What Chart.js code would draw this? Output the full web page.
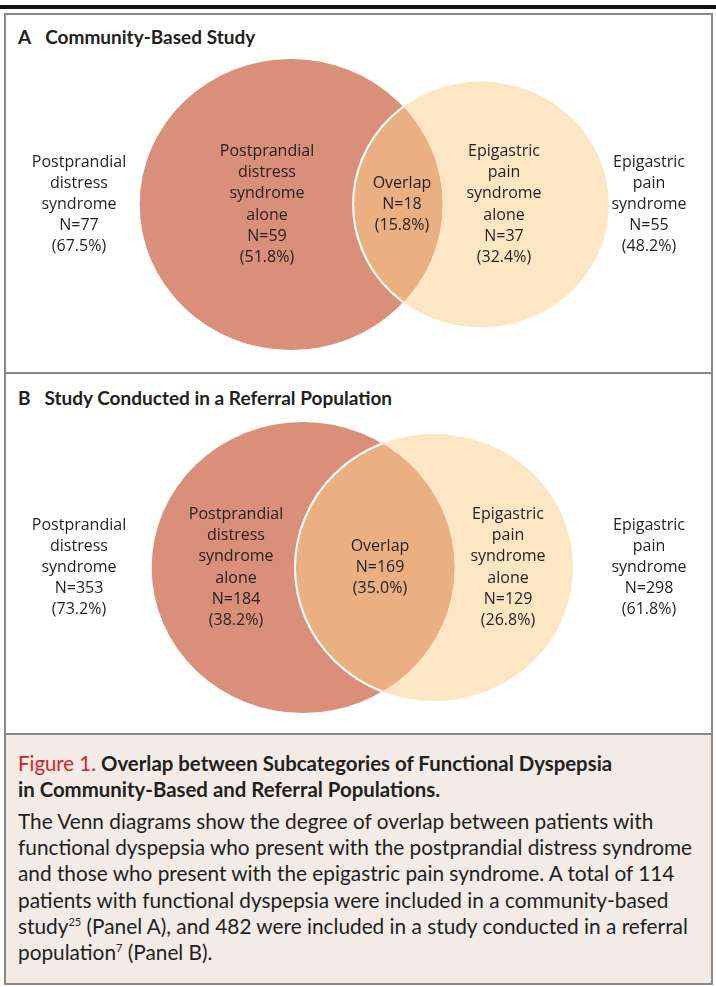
<!DOCTYPE html>
<html>
<head>
<meta charset="utf-8">
<script src="https://cdn.jsdelivr.net/npm/chart.js@4.4.1/dist/chart.umd.min.js"></script>
<style>
  body { margin: 0; background: #fff; }
  #page { position: relative; width: 716px; height: 987px; overflow: hidden; color: #231f20; }
  .rule { position: absolute; left: 0; top: 5px; width: 716px; height: 4px; background: #111; }
  .box { position: absolute; left: 4px; width: 705px; border: 2px solid #888; }
  #boxA { top: 13px; height: 357px; }
  #boxB { top: 374px; height: 359px; border-top: none; }
  #boxC { top: 735px; height: 248px; border-top: none; background: #f2ebe6; }
  .ptitle { position: absolute; left: 18px; font-family: Lato, sans-serif; font-weight: bold; font-size: 19px; line-height: 24px; white-space: nowrap; }
  .ptitle .sp { margin-left: 14px; }
  canvas { position: absolute; left: 6px; }
  .cap { position: absolute; left: 18px; font-family: Lato, sans-serif; white-space: nowrap; }
  .cap.head { top: 750px; font-weight: bold; font-size: 20.4px; line-height: 26.4px; }
  .cap.head .fig { color: #d2232a; font-weight: normal; }
  .cap.body { top: 808px; font-size: 20.8px; line-height: 26.2px; }
  .cap sup { font-size: 11px; line-height: 0; vertical-align: 8px; }
</style>
</head>
<body>
<div id="page">
  <div class="rule"></div>
  <div class="box" id="boxA"></div>
  <div class="box" id="boxB"></div>
  <div class="box" id="boxC"></div>
  <div class="ptitle" style="top:25px">A<span class="sp">Community-Based Study</span></div>
  <div class="ptitle" style="top:386px">B<span class="sp">Study Conducted in a Referral Population</span></div>
  <canvas id="chartA" width="705" height="357" style="top:15px"></canvas>
  <canvas id="chartB" width="705" height="359" style="top:376px"></canvas>
  <div class="cap head"><span class="fig">Figure 1.</span> Overlap between Subcategories of Functional Dyspepsia<br>in Community-Based and Referral Populations.</div>
  <div class="cap body">The Venn diagrams show the degree of overlap between patients with<br>functional dyspepsia who present with the postprandial distress syndrome<br>and those who present with the epigastric pain syndrome. A total of 114<br>patients with functional dyspepsia were included in a community-based<br>study<sup>25</sup> (Panel A), and 482 were included in a study conducted in a referral<br>population<sup>7</sup> (Panel B).</div>
</div>
<script>
// one entry per panel: A = community-based, B = referral population
var panelIds = ['chartA', 'chartB'];
var pdsTotal = [77, 353];
var pdsTotalPct = [67.5, 73.2];
var epsTotal = [55, 298];
var epsTotalPct = [48.2, 61.8];
var pdsAlone = [59, 184];
var pdsAlonePct = [51.8, 38.2];
var overlapN = [18, 169];
var overlapPct = [15.8, 35.0];
var epsAlone = [37, 129];
var epsAlonePct = [32.4, 26.8];

// drawing layout (canvas pixels)
var layout = [
    { cx: 285, cy: 189.5, R: 145.5, gap: 190, labelX: [73, 261, 396, 498, 643] },
    { cx: 297, cy: 191.5, R: 145.5, gap: 131, labelX: [73, 230, 374, 502, 643] }
];
var stretch = 1.04;
var red = '#d98f79', yellow = '#fde6c4', overlapColor = '#eab082';

function pct(v) { return '(' + v.toFixed(1) + '%)'; }

var vennPlugin = {
    id: 'venn',
    beforeDatasetsDraw: function(chart) {
        var ctx = chart.ctx;
        var a = chart.getDatasetMeta(0).data[0];
        ctx.save();
        ctx.translate(a.x, 0);
        ctx.scale(stretch, 1);
        ctx.translate(-a.x, 0);
    },
    afterDatasetsDraw: function(chart) {
        var ctx = chart.ctx;
        var a = chart.getDatasetMeta(0).data[0];
        var b = chart.getDatasetMeta(1).data[0];
        // overlap lens = yellow circle clipped to red circle
        ctx.save();
        ctx.beginPath();
        ctx.arc(a.x, a.y, a.options.radius, 0, Math.PI * 2);
        ctx.clip();
        ctx.beginPath();
        ctx.arc(b.x, b.y, b.options.radius, 0, Math.PI * 2);
        ctx.fillStyle = overlapColor;
        ctx.fill();
        ctx.lineWidth = 2;
        ctx.strokeStyle = '#fff';
        ctx.stroke();
        ctx.restore();
        ctx.restore();

        var labels = chart.options.plugins.venn.labels;
        var xs = chart.options.plugins.venn.labelX;
        ctx.save();
        ctx.font = '16px "Open Sans"';
        ctx.fillStyle = '#231f20';
        ctx.textAlign = 'center';
        ctx.textBaseline = 'middle';
        var lh = 21.2;
        labels.forEach(function(lines, k) {
            var x = chart.scales.x.getPixelForValue(xs[k]);
            var y0 = a.y - (lines.length - 1) * lh / 2;
            lines.forEach(function(t, j) {
                ctx.fillText(t, x, y0 + j * lh);
            });
        });
        ctx.restore();
    }
};

panelIds.forEach(function(id, i) {
    var L = layout[i];
    var canvas = document.getElementById(id);
    var rY = L.R * Math.sqrt(epsTotal[i] / pdsTotal[i]);
    var labels = [
        ['Postprandial', 'distress', 'syndrome', 'N=' + pdsTotal[i], pct(pdsTotalPct[i])],
        ['Postprandial', 'distress', 'syndrome', 'alone', 'N=' + pdsAlone[i], pct(pdsAlonePct[i])],
        ['Overlap', 'N=' + overlapN[i], pct(overlapPct[i])],
        ['Epigastric', 'pain', 'syndrome', 'alone', 'N=' + epsAlone[i], pct(epsAlonePct[i])],
        ['Epigastric', 'pain', 'syndrome', 'N=' + epsTotal[i], pct(epsTotalPct[i])]
    ];
    new Chart(canvas.getContext('2d'), {
        type: 'bubble',
        data: {
            datasets: [{
                label: 'Postprandial distress syndrome',
                data: [{ x: L.cx, y: L.cy, r: L.R }],
                backgroundColor: red,
                borderWidth: 0,
                clip: false
            }, {
                label: 'Epigastric pain syndrome',
                data: [{ x: L.cx + L.gap / stretch, y: L.cy, r: rY }],
                backgroundColor: yellow,
                borderWidth: 0,
                clip: false
            }]
        },
        options: {
            responsive: false,
            animation: false,
            events: [],
            layout: { padding: 0, autoPadding: false },
            scales: {
                x: { type: 'linear', display: false, min: 0, max: canvas.width },
                y: { type: 'linear', display: false, min: 0, max: canvas.height, reverse: true }
            },
            plugins: {
                legend: { display: false },
                tooltip: { enabled: false },
                venn: { labels: labels, labelX: L.labelX }
            }
        },
        plugins: [vennPlugin]
    });
});
</script>
</body>
</html>
